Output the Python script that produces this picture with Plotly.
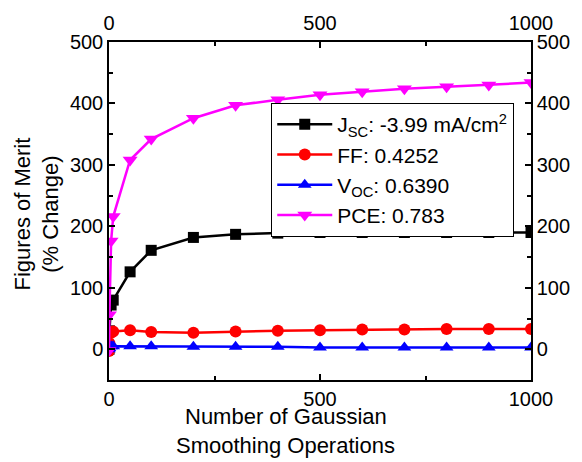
import plotly.graph_objects as go

# Number of Gaussian smoothing operations
ops = [0, 1, 5, 10, 50, 100, 200, 300, 400, 500, 600, 700, 800, 900, 1000]

# Percent change of each figure of merit
jsc = [0, 30, 72, 80, 126, 161, 182, 187, 189, 190, 190, 190, 190, 190, 190]
ff = [-3, 10, 27, 29, 31, 28, 27, 29, 30, 31, 32, 32, 33, 33, 33]
voc = [0, 2, 5, 5, 5, 5, 4, 4, 4, 3, 3, 3, 3, 3, 3]
pce = [-2, 56, 176, 216, 308, 342, 376, 397, 406, 414, 419, 424, 427, 430, 434]

names = [
    "J<sub>SC</sub>: -3.99 mA/cm<sup>2</sup>",
    "FF: 0.4252",
    "V<sub>OC</sub>: 0.6390",
    "PCE: 0.783",
]
colors = ["#000000", "#ff0000", "#0000ff", "#ff00ff"]
symbols = ["square", "circle", "triangle-up", "triangle-down"]
sizes = [11, 12, 12, 13]

fig = go.Figure()
for vals, name, col, sym, sz in zip([jsc, ff, voc, pce], names, colors, symbols, sizes):
    fig.add_trace(go.Scatter(
        x=ops, y=vals, name=name, mode="lines+markers",
        line=dict(color=col, width=2.5),
        marker=dict(symbol=sym, size=sz, color=col),
    ))

font = "Liberation Sans, Arial, sans-serif"
axis_common = dict(
    showline=True, linecolor="black", linewidth=1.5,
    ticks="inside", ticklen=6, tickwidth=1.5, tickcolor="black",
    showgrid=False, zeroline=False,
    tickfont=dict(family=font, size=20, color="black"),
)
x_minor = dict(tickvals=[250, 750], ticks="inside", ticklen=4, tickcolor="black", tickwidth=1.5)
y_minor = dict(tickvals=[50, 150, 250, 350, 450], ticks="inside", ticklen=4, tickcolor="black", tickwidth=1.5)

fig.update_layout(
    width=582, height=462,
    margin=dict(l=109, r=48, t=38, b=82),
    plot_bgcolor="white", paper_bgcolor="white",
    font=dict(family=font, color="black"),
    xaxis=dict(range=[0, 1000], tickvals=[0, 500, 1000], minor=x_minor, **axis_common),
    yaxis=dict(range=[-50, 500], tickvals=[0, 100, 200, 300, 400, 500],
               minor=y_minor, **axis_common),
    xaxis2=dict(overlaying="x", side="top", range=[0, 1000], tickvals=[0, 500, 1000],
                minor=x_minor, ticklabelstandoff=2, **axis_common),
    yaxis2=dict(overlaying="y", side="right", range=[-50, 500],
                tickvals=[0, 100, 200, 300, 400, 500], minor=y_minor, **axis_common),
    legend=dict(
        x=0.384, y=0.82, xanchor="left", yanchor="top",
        bgcolor="white", bordercolor="black", borderwidth=1.2,
        font=dict(family=font, size=21, color="black"),
        tracegroupgap=0, itemwidth=55,
    ),
    showlegend=True,
)

# Axis titles (each line placed on its own)
title_font = dict(family=font, size=22, color="black")
for text, ypix in [("Number of Gaussian", 417), ("Smoothing Operations", 446)]:
    fig.add_annotation(
        text=text, xref="paper", yref="paper",
        x=(287 - 109) / 425, y=(380 - ypix) / 342,
        xanchor="center", yanchor="middle", showarrow=False, font=title_font,
    )
fig.add_annotation(
    text="Figures of Merit<br>(% Change)",
    xref="paper", yref="paper", x=(36 - 109) / 425, y=(380 - 212) / 342,
    xanchor="center", yanchor="middle", textangle=-90, showarrow=False,
    font=title_font,
)

# Invisible trace so the top and right axes are drawn
fig.add_trace(go.Scatter(x=[0, 1000], y=[0, 0], xaxis="x2", yaxis="y2",
                         mode="lines", line=dict(width=0), showlegend=False,
                         hoverinfo="skip"))

fig.write_html("out.html")
